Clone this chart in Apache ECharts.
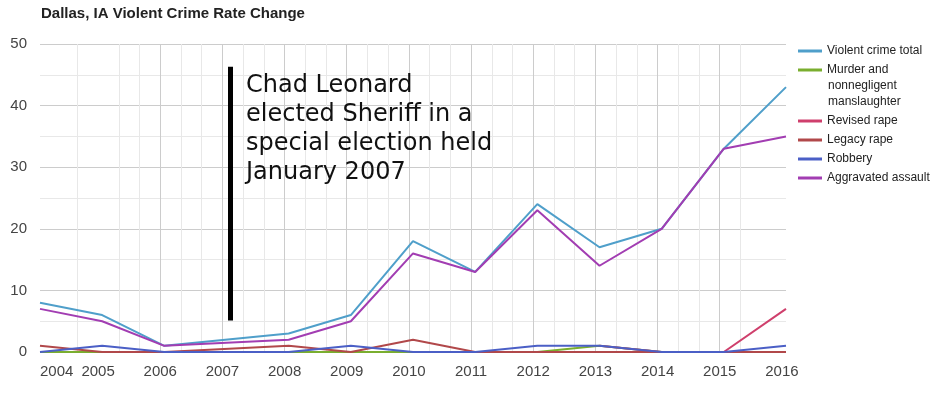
<!DOCTYPE html>
<html><head><meta charset="utf-8">
<script src="https://cdn.jsdelivr.net/npm/echarts@6/dist/echarts.min.js"></script>
<style>html,body{margin:0;padding:0;background:#fff}#c{width:939px;height:395px}</style>
</head><body><div id="c"></div>
<script>
// ---- data ----
const years = [2004, 2005, 2006, 2007, 2008, 2009, 2010, 2011, 2012, 2013, 2014, 2015, 2016];
const violentTotal = [8, 6, 1, null, 3, 6, 18, 13, 24, 17, 20, 33, 43];
const murder       = [0, 0, 0, null, 0, 0, 0, 0, 0, 1, 0, 0, 0];
const revisedRape  = [null, null, null, null, null, null, null, null, null, 1, 0, 0, 7];
const legacyRape   = [1, 0, 0, null, 1, 0, 2, 0, 0, 0, 0, 0, 0];
const robbery      = [0, 1, 0, null, 0, 1, 0, 0, 1, 1, 0, 0, 1];
const aggravated   = [7, 5, 1, null, 2, 5, 16, 13, 23, 14, 20, 33, 35];
const yTicks = [0, 10, 20, 30, 40, 50];
const seriesNames = ['Violent crime total', 'Murder and nonnegligent manslaughter', 'Revised rape', 'Legacy rape', 'Robbery', 'Aggravated assault'];
const seriesColors = ['#4f9fca', '#7aae2f', '#cf3f6c', '#b1484a', '#4b5fc6', '#a23db2'];
// points are dated late January of each year (fraction of a year)
const pointOffset = 24 / 365;
const annotationTime = 2007 + 45 / 365;
const annotationRange = [5.1, 46.3];
const annotationText = 'Chad Leonard\nelected Sheriff in a\nspecial election held\nJanuary 2007';

const allValues = [violentTotal, murder, revisedRape, legacyRape, robbery, aggravated];
const toPoints = arr => years.map((y, i) => [y + pointOffset, arr[i]]);

const xMin = years[0] + pointOffset;
const xMax = years[years.length - 1] + pointOffset;
const majorTicks = years.filter(v => v >= xMin && v <= xMax);
const labelTicks = [xMin].concat(majorTicks);
const minorTicks = [];
years.forEach(y => { [1, 2].forEach(k => { const v = y + k / 3; if (v > xMin && v < xMax) minorTicks.push(v); }); });

const font = "'Liberation Sans', Arial, sans-serif";
const chart = echarts.init(document.getElementById('c'), null, {renderer: 'canvas'});

const series = seriesNames.map((name, k) => ({
  name: name,
  type: 'line',
  xAxisIndex: 0,
  data: toPoints(allValues[k]),
  showSymbol: false,
  connectNulls: true,
  color: seriesColors[k],
  lineStyle: {width: 2, color: seriesColors[k]},
  emphasis: {disabled: true},
  z: 2 + k
}));
series[0].markLine = {
  silent: true,
  symbol: ['none', 'none'],
  label: {show: false},
  lineStyle: {color: '#000', width: 5, type: 'solid'},
  data: [[{coord: [annotationTime, annotationRange[0]]}, {coord: [annotationTime, annotationRange[1]]}]],
  animation: false
};

const legendCommon = {
  orient: 'vertical',
  left: 798,
  padding: 0,
  itemWidth: 24,
  itemHeight: 3,
  itemGap: 3,
  icon: 'rect',
  selectedMode: false,
  textStyle: {fontFamily: font, fontSize: 12, color: '#222', lineHeight: 16, padding: [0,0,0,0]}
};

chart.setOption({
  animation: false,
  backgroundColor: '#fff',
  title: {
    text: 'Dallas, IA Violent Crime Rate Change',
    left: 41, top: 6, padding: 0,
    textStyle: {fontFamily: font, fontSize: 15, fontWeight: 'bold', color: '#222'}
  },
  legend: [
    Object.assign({}, legendCommon, {
      top: 43,
      data: seriesNames.slice(0, 2),
      formatter: n => n === seriesNames[1] ? 'Murder and' : n
    }),
    Object.assign({}, legendCommon, {
      top: 113,
      data: seriesNames.slice(2)
    })
  ],
  graphic: [
    {type: 'text', left: 828, top: 78, silent: true,
     style: {text: 'nonnegligent\nmanslaughter', font: '12px ' + font, fill: '#222', lineHeight: 16}},
    {type: 'text', left: 246, top: 71, silent: true, z: 100,
     style: {text: annotationText, font: "24px 'DejaVu Sans', sans-serif", fill: '#111', lineHeight: 29}}
  ],
  grid: {left: 40, right: 153, top: 44, bottom: 43, containLabel: false},
  xAxis: [{
    type: 'value',
    min: xMin, max: xMax,
    axisLine: {show: false},
    axisTick: {show: false, customValues: majorTicks},
    axisLabel: {
      customValues: labelTicks,
      formatter: v => String(Math.floor(v + 1e-6)),
      fontFamily: font, fontSize: 15, color: '#444', margin: 12,
      alignMinLabel: 'left', hideOverlap: false
    },
    splitLine: {show: true, lineStyle: {color: '#cccccc', width: 1}, showMinLine: false, showMaxLine: false},
    z: 1
  }, {
    type: 'value',
    position: 'bottom',
    min: xMin, max: xMax,
    axisLine: {show: false},
    axisTick: {show: false, customValues: minorTicks},
    axisLabel: {show: false},
    splitLine: {show: true, lineStyle: {color: '#e8e8e8', width: 1}, showMinLine: false, showMaxLine: false},
    z: 0
  }],
  yAxis: {
    type: 'value',
    min: yTicks[0], max: yTicks[yTicks.length - 1], interval: yTicks[1] - yTicks[0],
    axisLine: {show: false},
    axisTick: {show: false},
    axisLabel: {fontFamily: font, fontSize: 15, color: '#444', margin: 13},
    splitLine: {lineStyle: {color: '#cccccc', width: 1}},
    minorTick: {show: false, splitNumber: 2},
    minorSplitLine: {show: true, lineStyle: {color: '#e8e8e8', width: 1}}
  },
  series: series
});
</script></body></html>
